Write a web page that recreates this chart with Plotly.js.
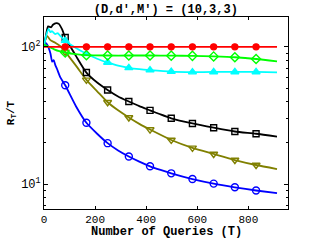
<!DOCTYPE html>
<html><head><meta charset="utf-8">
<script src="https://cdn.plot.ly/plotly-3.0.1.min.js"></script>
<style>html,body{margin:0;padding:0;background:#fff}#c{width:319px;height:240px}</style>
</head><body><div id="c"></div>
<script>
// Marker positions (T)
const markT = [83,166,249,332,415,498,581,664,747,830];

const blueT = [0,6,12,25,32,38,44,51,64,83,125,166,208,249,290,332,373,415,456,498,581,664,747,830,912];
const blueY = [100,107,104,90,78,80,74,69,60,52.5,37,28,23.3,19.9,17.6,15.9,14.6,13.5,12.7,12.0,10.9,10.1,9.5,9.0,8.6];

const oliveT = [0,12,25,44,64,83,125,166,208,249,290,332,373,415,498,581,664,747,830,912];
const oliveY = [104,120,112,107,101,92,73,57.5,47.5,39.5,34.5,30.6,27.5,25,21,18.4,16.6,15,13.8,12.9];

const blackT = [0,8,16,28,35,48,58,71,83,125,166,208,249,290,332,373,415,456,498,581,664,747,830,912];
const blackY = [100,122,141,139,145,149,147,134,117,86,65,55,48.5,43.5,40,37,34.5,32.2,30.2,27.7,25.8,24.2,23.3,22.2];

const cyanT = [0,8,18,25,31,44,54,64,83,125,166,208,249,290,332,373,415,498,581,664,747,830,912];
const cyanY = [100,120,135,128,130,124,126,120,111,98,89,82,77,73,70.4,68.8,67.7,66,65.5,65.7,65.7,65.7,65.2];

const greenT = [0,20,40,60,83,125,166,249,332,415,498,581,664,747,830,912];
const greenY = [104,100,96,93,91,88.5,87,86.5,86.5,86.5,86.3,86,85.2,84,81.6,78.3];

const redT = [0,83,166,249,332,415,498,581,664,747,830,912];
const redY = [100,100,100,100,100,100,100,100,100,100,100,100];

const xTicks = [0,200,400,600,800];
const yTickVals = [10,100];
const yTickText = ['10<sup>1</sup>','10<sup>2</sup>'];
const yMinorVals = [7,8,9,20,30,40,50,60,70,80,90,200];

const series = [
  {T: blueT, Y: blueY, color:'#0000ff', sym:'circle-open', size:7},
  {T: oliveT, Y: oliveY, color:'#808000', sym:'triangle-down-open', size:7},
  {T: blackT, Y: blackY, color:'#000000', sym:'square-open', size:6},
  {T: cyanT, Y: cyanY, color:'#00ffff', sym:'triangle-up', size:7},
  {T: greenT, Y: greenY, color:'#00ff00', sym:'diamond-open', size:7},
  {T: redT, Y: redY, color:'#ff0000', sym:'circle', size:6}
];

const traces = [];
series.forEach(s => {
  traces.push({x: s.T, y: s.Y, mode:'lines', line:{color:s.color, width:1.8, shape:'spline', smoothing:0.6}, showlegend:false, hoverinfo:'skip'});
  const mx = [], my = [];
  s.T.forEach((t,i) => { if (markT.includes(t)) { mx.push(t); my.push(s.Y[i]); } });
  traces.push({x: mx, y: my, mode:'markers', marker:{symbol:s.sym, size:s.size, color:s.color, line:{color:s.color, width:1.4}}, showlegend:false, hoverinfo:'skip'});
});

const fam = '"Liberation Mono", "DejaVu Sans Mono", monospace';
const layout = {
  width:319, height:240,
  margin:{l:44, r:31, t:17, b:31},
  paper_bgcolor:'#fff', plot_bgcolor:'#fff',
  font: {family:fam, size:12, color:'#000'},
  title:{text:'<b>(D,d′,M′) = (10,3,3)</b>', font:{family:fam, size:12, color:'#000'}, x:0.52, xanchor:'center', y:0.98, yanchor:'top'},
  xaxis:{range:[0,955], tickvals:xTicks, ticktext:xTicks.map(String), ticks:'inside', ticklen:3, tickcolor:'#000',
    showline:true, linecolor:'#000', linewidth:1, mirror:'ticks', showgrid:false, zeroline:false,
    tickfont:{family:fam, size:11, color:'#000'}},
  yaxis:{type:'log', range:[Math.log10(6.6), Math.log10(165)], tickvals:yTickVals, ticktext:yTickText,
    ticks:'inside', ticklen:4, tickcolor:'#000', showline:true, linecolor:'#000', linewidth:1, mirror:'ticks',
    showgrid:false, zeroline:false, tickfont:{family:fam, size:12, color:'#000'},
    minor:{tickvals:yMinorVals, ticks:'inside', ticklen:2, tickcolor:'#000', showgrid:false},
    title:{text:'<b>R<sub>T</sub>/T</b>', font:{family:fam, size:11, color:'#000'}, standoff:4}},
  annotations:[{text:'<b>Number of Queries (T)</b>', xref:'paper', yref:'paper', x:0.5, y:0, xanchor:'center', yanchor:'bottom', yshift:-31, borderpad:0, showarrow:false, font:{family:fam, size:12, color:'#000'}}]
};
Plotly.newPlot('c', traces, layout, {staticPlot:true, displayModeBar:false});
</script></body></html>
